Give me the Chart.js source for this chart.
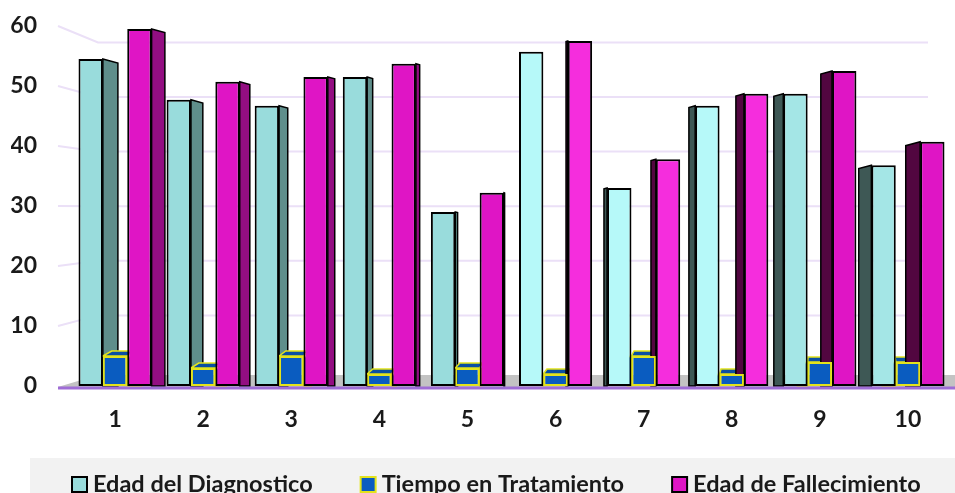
<!DOCTYPE html>
<html lang="es">
<head>
    <meta charset="UTF-8">
    <title>Edad del Diagnostico, Tiempo en Tratamiento, Edad de Fallecimiento</title>
    <script src="https://cdn.jsdelivr.net/npm/chart.js"></script>
    <style>
        body { margin: 0; background: #fff; }
        #chartContainer { width: 955px; height: 493px; position: relative; }
    </style>
</head>
<body>
    <div id="chartContainer">
        <canvas id="myChart"></canvas>
    </div>

    <script>
        // Datos
        const categories = ['1', '2', '3', '4', '5', '6', '7', '8', '9', '10'];
        const edadDiagnostico = [54.5, 47.7, 46.7, 51.5, 29, 55.7, 33, 46.7, 48.7, 36.8];
        const tiempoTratamiento = [5, 3, 5, 2, 3, 2, 5, 2, 4, 4];
        const edadFallecimiento = [59.5, 50.7, 51.5, 53.7, 32.2, 57.5, 37.8, 48.7, 52.5, 40.7];
        const yTicks = [0, 10, 20, 30, 40, 50, 60];

        const fontFamily = 'Lato, "Open Sans", sans-serif';

        // colores de las caras laterales
        const sideColors = [
            { right: '#5f8e8b', left: '#3e5855', stroke: '#000' },
            { right: '#0a3f86', left: '#0a3f86', stroke: '#e3e31c' },
            { right: '#930e82', left: '#520640', stroke: '#000' }
        ];

        function diagColor(ctx) {
            const i = ctx.dataIndex;
            if (i >= 5 && i <= 7) return '#b6f9f9';
            if (i >= 8) return '#a4e6e6';
            return '#99dcdc';
        }
        function fallColor(ctx) {
            const i = ctx.dataIndex;
            if (i >= 5 && i <= 7) return '#f52ddd';
            return '#df15c5';
        }

        // efecto 3D aproximado: rejilla en perspectiva, suelo y caras laterales
        const pseudo3d = {
            id: 'pseudo3d',
            beforeDatasetsDraw(chart) {
                const { ctx, chartArea, scales } = chart;
                const { left, right } = chartArea;
                const y = scales.y;
                const y0 = y.getPixelForValue(0);
                ctx.save();

                // rejilla
                ctx.strokeStyle = '#ebe0f7';
                ctx.lineWidth = 2;
                yTicks.slice(1).forEach(v => {
                    const yf = y.getPixelForValue(v);
                    const yb = (y0 - 16) + (yf - y0) * 0.91;
                    ctx.beginPath();
                    ctx.moveTo(left - 13, yf);
                    ctx.lineTo(left + 27, yb);
                    ctx.lineTo(right - 24, yb);
                    ctx.stroke();
                });

                // suelo
                ctx.fillStyle = '#c3c3c3';
                ctx.beginPath();
                ctx.moveTo(left - 13, y0 + 1);
                ctx.lineTo(left + 27, y0 - 11);
                ctx.lineTo(right + 3, y0 - 11);
                ctx.lineTo(right + 3, y0 + 1);
                ctx.closePath();
                ctx.fill();

                // caras laterales
                const vx = left + 0.51 * (right - left);
                chart.data.datasets.forEach((ds, di) => {
                    const meta = chart.getDatasetMeta(di);
                    const sc = sideColors[di];
                    meta.data.forEach(bar => {
                        const xl = bar.x - bar.width / 2;
                        const xr = bar.x + bar.width / 2;
                        const top = bar.y, base = bar.base;
                        ctx.beginPath();
                        let d = 0;
                        if (xr < vx) {
                            d = (vx - xr) * 0.036;
                            ctx.moveTo(xr, top);
                            ctx.lineTo(xr + d, top + d * 0.27);
                            ctx.lineTo(xr + d, base);
                            ctx.lineTo(xr, base);
                            ctx.fillStyle = sc.right;
                        } else if (xl > vx) {
                            d = (xl - vx) * 0.036;
                            ctx.moveTo(xl, top);
                            ctx.lineTo(xl - d, top + d * 0.27);
                            ctx.lineTo(xl - d, base);
                            ctx.lineTo(xl, base);
                            ctx.fillStyle = sc.left;
                        }
                        if (d > 0.5) {
                            ctx.closePath();
                            ctx.fill();
                            ctx.strokeStyle = sc.stroke;
                            ctx.lineWidth = 1.5;
                            ctx.stroke();
                        }
                        // cara superior de las barras bajas
                        if (di === 1) {
                            const sx = (vx - bar.x) * 0.012;
                            ctx.beginPath();
                            ctx.moveTo(xl, top);
                            ctx.lineTo(xl + 4 + sx, top - 5);
                            ctx.lineTo(xr + 2 + sx, top - 5);
                            ctx.lineTo(xr, top);
                            ctx.closePath();
                            ctx.fillStyle = '#0a4fa3';
                            ctx.fill();
                            ctx.strokeStyle = sc.stroke;
                            ctx.lineWidth = 1.5;
                            ctx.stroke();
                        }
                    });
                });
                ctx.restore();
            },
            afterDatasetsDraw(chart) {
                const { ctx, chartArea, scales } = chart;
                const y0 = scales.y.getPixelForValue(0);
                ctx.save();
                ctx.strokeStyle = '#9f6dd6';
                ctx.lineWidth = 3;
                ctx.beginPath();
                ctx.moveTo(chartArea.left - 13, y0 + 2);
                ctx.lineTo(chartArea.right + 3, y0 + 2);
                ctx.stroke();
                ctx.restore();
            },
            afterDraw(chart) {
                // leyenda con banda gris
                const { ctx } = chart;
                ctx.save();
                ctx.fillStyle = '#f2f2f2';
                ctx.fillRect(30, 458, chart.width - 30, 40);
                ctx.font = 'bold 23.5px ' + fontFamily;
                ctx.textBaseline = 'middle';
                let x = 72;
                const cy = 484;
                const fills = ['#99dcdc', '#0a5cc0', '#df15c5'];
                chart.data.datasets.forEach((ds, di) => {
                    ctx.fillStyle = fills[di];
                    ctx.fillRect(x, cy - 7, 15, 15);
                    ctx.strokeStyle = sideColors[di].stroke;
                    ctx.lineWidth = 2;
                    ctx.strokeRect(x, cy - 7, 15, 15);
                    ctx.fillStyle = '#1a1a1a';
                    ctx.fillText(ds.label, x + 21, cy);
                    x += 21 + ctx.measureText(ds.label).width + 48;
                });
                ctx.restore();
            }
        };

        const ctx = document.getElementById('myChart').getContext('2d');
        const myChart = new Chart(ctx, {
            type: 'bar',
            data: {
                labels: categories,
                datasets: [{
                    label: 'Edad del Diagnostico',
                    data: edadDiagnostico,
                    backgroundColor: diagColor,
                    borderColor: '#000',
                    borderWidth: 2,
                    borderSkipped: false
                }, {
                    label: 'Tiempo en Tratamiento',
                    data: tiempoTratamiento,
                    backgroundColor: '#0a5cc0',
                    borderColor: '#e3e31c',
                    borderWidth: 2,
                    borderSkipped: false
                }, {
                    label: 'Edad de Fallecimiento',
                    data: edadFallecimiento,
                    backgroundColor: fallColor,
                    borderColor: '#000',
                    borderWidth: 2,
                    borderSkipped: false
                }]
            },
            options: {
                responsive: true,
                maintainAspectRatio: false,
                animation: false,
                categoryPercentage: 0.83,
                barPercentage: 1.0,
                layout: { autoPadding: false, padding: { left: 11, right: 3, top: 26, bottom: 61 } },
                plugins: {
                    legend: { display: false },
                    tooltip: { enabled: false }
                },
                scales: {
                    x: {
                        grid: { display: false, drawTicks: false },
                        border: { display: false },
                        afterFit(scale) { scale.height = 46; },
                        ticks: {
                            color: '#1a1a1a',
                            padding: 20,
                            maxRotation: 0,
                            font: { family: fontFamily, size: 23, weight: 'bold' }
                        }
                    },
                    y: {
                        min: 0,
                        max: 60,
                        grid: { display: false, drawTicks: false },
                        border: { display: false },
                        afterFit(scale) {
                            scale.width = 60;
                            scale.paddingTop = 0;
                            scale.paddingBottom = 0;
                        },
                        ticks: {
                            stepSize: 10,
                            color: '#1a1a1a',
                            padding: 34,
                            font: { family: fontFamily, size: 23, weight: 'bold' }
                        }
                    }
                }
            },
            plugins: [pseudo3d]
        });
    </script>
</body>
</html>
